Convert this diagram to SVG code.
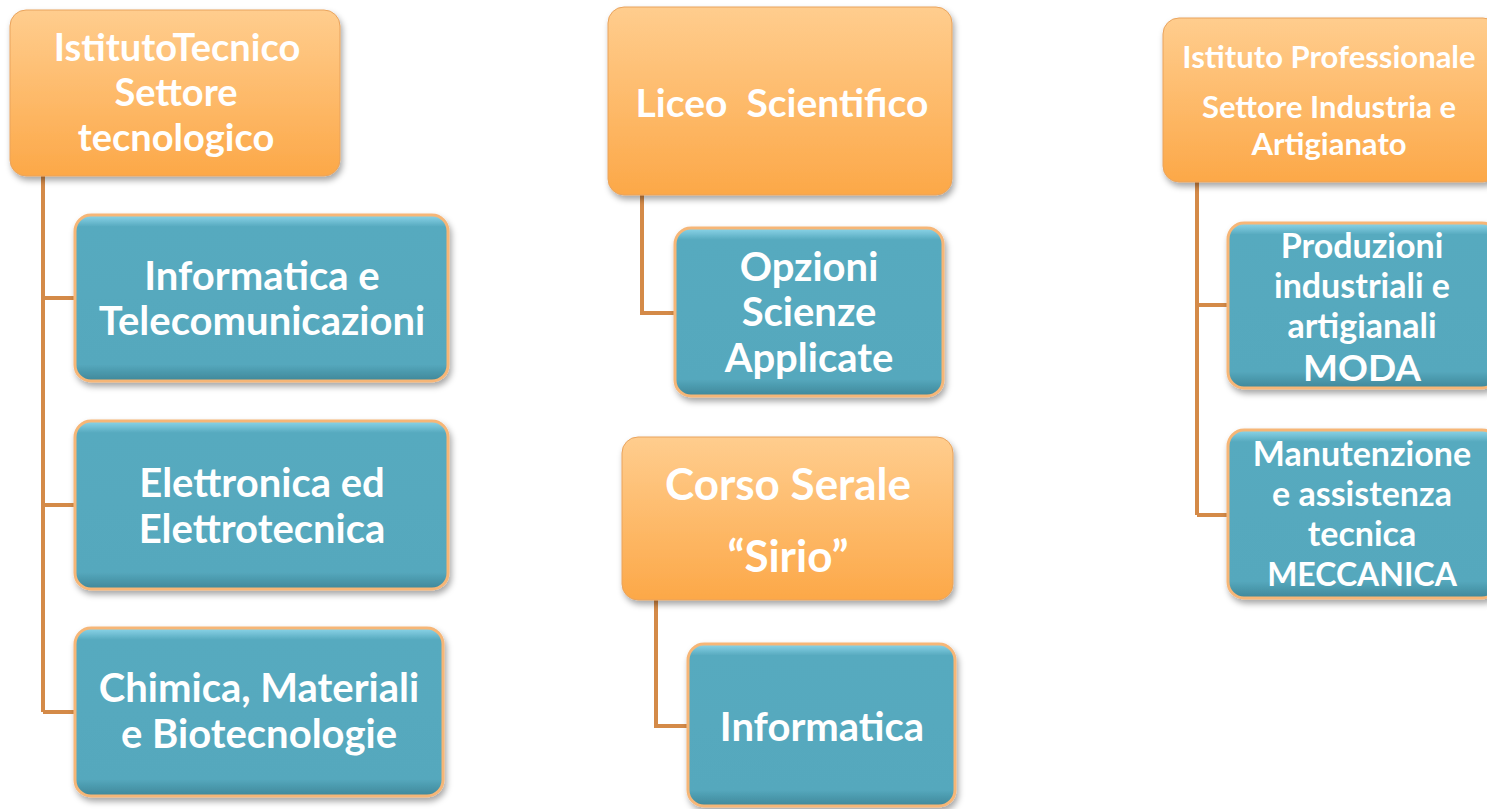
<svg xmlns="http://www.w3.org/2000/svg" width="1487" height="809" viewBox="0 0 1487 809">
<defs>
<linearGradient id="gO" x1="0" y1="0" x2="0" y2="1">
<stop offset="0" stop-color="#FFCD8E"/>
<stop offset="1" stop-color="#FCA848"/>
</linearGradient>
<linearGradient id="gT" x1="0" y1="0" x2="0" y2="1">
<stop offset="0" stop-color="#8DD6EA"/>
<stop offset="0.07" stop-color="#57AABF"/>
<stop offset="0.9" stop-color="#55A8BD"/>
<stop offset="1" stop-color="#3F8799"/>
</linearGradient>
<filter id="sh" x="-10%" y="-10%" width="120%" height="130%">
<feDropShadow dx="2" dy="4" stdDeviation="3" flood-color="#000" flood-opacity="0.35"/>
</filter>
</defs>
<style>
.o{fill:url(#gO);stroke:#E9A35C;stroke-width:1;filter:url(#sh)}
.t{fill:url(#gT);stroke:#F6B677;stroke-width:3;filter:url(#sh)}
text{font-family:Lato,"Open Sans",sans-serif;font-weight:bold;fill:#fff;text-anchor:middle}
.c{fill:none;stroke:#D48A48;stroke-width:4}
</style>
<g id="connectors">
<path class="c" d="M43 176V712M43 298H75M43 505H75M43 712H75"/>
<path class="c" d="M642 195V313H675"/>
<path class="c" d="M656 600V726H688"/>
<path class="c" d="M1197 182V515M1197 305H1228M1197 515H1228"/>
</g>
<g id="n-it">
<rect class="o" x="10" y="10" width="330" height="166" rx="16"/>
<text font-size="38"><tspan x="177" y="61">IstitutoTecnico</tspan><tspan x="176" y="106">Settore</tspan><tspan x="176" y="151">tecnologico</tspan></text>
</g>
<g id="n-inf">
<rect class="t" x="75" y="215" width="373" height="166" rx="16"/>
<text font-size="40"><tspan x="262" y="290">Informatica e</tspan><tspan x="262" y="335">Telecomunicazioni</tspan></text>
</g>
<g id="n-ele">
<rect class="t" x="75" y="421" width="373" height="168" rx="16"/>
<text font-size="40"><tspan x="262" y="497">Elettronica ed</tspan><tspan x="262" y="543">Elettrotecnica</tspan></text>
</g>
<g id="n-chi">
<rect class="t" x="75" y="628" width="368" height="168" rx="16"/>
<text font-size="40"><tspan x="259" y="702">Chimica, Materiali</tspan><tspan x="259" y="748">e Biotecnologie</tspan></text>
</g>
<g id="n-liceo">
<rect class="o" x="608" y="7" width="344" height="188" rx="16"/>
<text font-size="39" x="782" y="117" xml:space="preserve">Liceo  Scientifico</text>
</g>
<g id="n-opz">
<rect class="t" x="675" y="228" width="268" height="168" rx="16"/>
<text font-size="40"><tspan x="809" y="281">Opzioni</tspan><tspan x="809" y="326">Scienze</tspan><tspan x="809" y="372">Applicate</tspan></text>
</g>
<g id="n-serale">
<rect class="o" x="622" y="437" width="331" height="163" rx="16"/>
<text font-size="44"><tspan x="788" y="500">Corso Serale</tspan><tspan x="788" y="572">“Sirio”</tspan></text>
</g>
<g id="n-infs">
<rect class="t" x="688" y="644" width="267" height="162" rx="16"/>
<text font-size="40" x="822" y="741">Informatica</text>
</g>
<g id="n-ip">
<rect class="o" x="1163" y="18" width="336" height="164" rx="16"/>
<text font-size="31"><tspan x="1329" y="68">Istituto Professionale</tspan><tspan x="1329" y="118">Settore Industria e</tspan><tspan x="1329" y="155">Artigianato</tspan></text>
</g>
<g id="n-prod">
<rect class="t" x="1228" y="223" width="270" height="165" rx="16"/>
<text font-size="34"><tspan x="1362" y="258">Produzioni</tspan><tspan x="1362" y="298">industriali e</tspan><tspan x="1362" y="338">artigianali</tspan><tspan x="1362" y="381" font-size="37">MODA</tspan></text>
</g>
<g id="n-man">
<rect class="t" x="1228" y="430" width="270" height="168" rx="16"/>
<text font-size="34"><tspan x="1362" y="466">Manutenzione</tspan><tspan x="1362" y="506">e assistenza</tspan><tspan x="1362" y="546">tecnica</tspan><tspan x="1362" y="586" font-size="32">MECCANICA</tspan></text>
</g>
</svg>
